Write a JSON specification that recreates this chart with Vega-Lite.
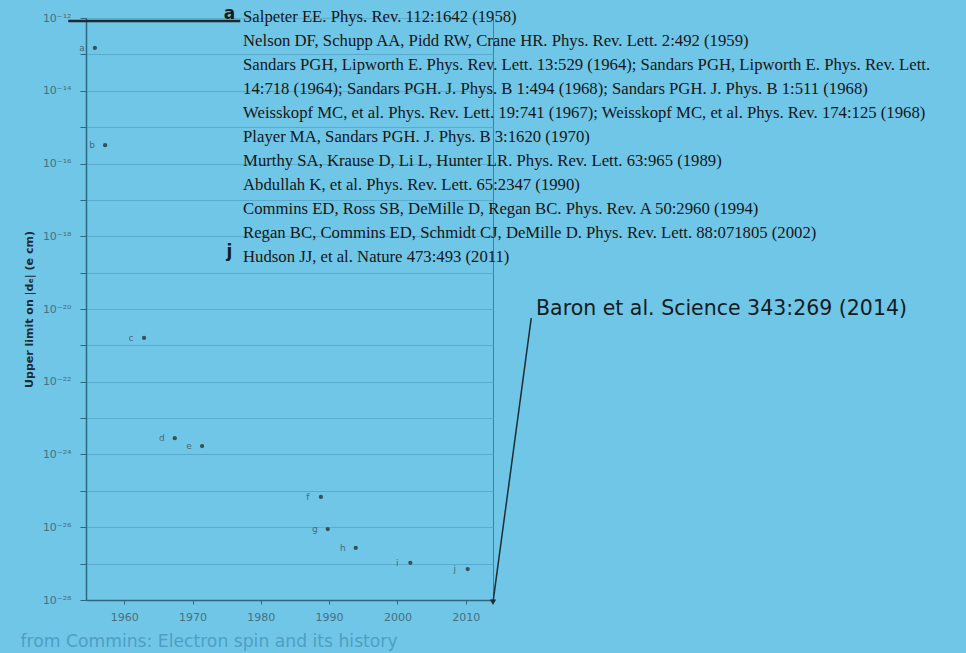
{
  "$schema": "https://vega.github.io/schema/vega-lite/v6.json",
  "width": 407,
  "height": 582,
  "autosize": {"type": "none"},
  "padding": {"left": 86, "top": 18, "right": 473, "bottom": 53},
  "background": "#70c6e7",
  "view": {"stroke": "#3f8098", "strokeWidth": 1},
  "config": {"font": "DejaVu Sans"},
  "datasets": {
    "points": [
      {"label": "a", "year": 1955.7, "limit": 1.5e-13},
      {"label": "b", "year": 1957.2, "limit": 3.2e-16},
      {"label": "c", "year": 1962.9, "limit": 1.6e-21},
      {"label": "d", "year": 1967.4, "limit": 2.8e-24},
      {"label": "e", "year": 1971.4, "limit": 1.7e-24},
      {"label": "f", "year": 1988.8, "limit": 6.8e-26},
      {"label": "g", "year": 1989.8, "limit": 8.9e-27},
      {"label": "h", "year": 1993.9, "limit": 2.7e-27},
      {"label": "i", "year": 2001.9, "limit": 1.05e-27},
      {"label": "j", "year": 2010.3, "limit": 7.1e-28}
    ],
    "baron": [
      {"label": "Baron et al. Science 343:269 (2014)", "year": 2014, "limit": 8.7e-29}
    ],
    "refs": [
      {"n": 1, "text": "Salpeter EE. Phys. Rev. 112:1642 (1958)"},
      {"n": 2, "text": "Nelson DF, Schupp AA, Pidd RW, Crane HR. Phys. Rev. Lett. 2:492 (1959)"},
      {"n": 3, "text": "Sandars PGH, Lipworth E. Phys. Rev. Lett. 13:529 (1964); Sandars PGH, Lipworth E. Phys. Rev. Lett."},
      {"n": 4, "text": "14:718 (1964); Sandars PGH. J. Phys. B 1:494 (1968); Sandars PGH. J. Phys. B 1:511 (1968)"},
      {"n": 5, "text": "Weisskopf MC, et al. Phys. Rev. Lett. 19:741 (1967); Weisskopf MC, et al. Phys. Rev. 174:125 (1968)"},
      {"n": 6, "text": "Player MA, Sandars PGH. J. Phys. B 3:1620 (1970)"},
      {"n": 7, "text": "Murthy SA, Krause D, Li L, Hunter LR. Phys. Rev. Lett. 63:965 (1989)"},
      {"n": 8, "text": "Abdullah K, et al. Phys. Rev. Lett. 65:2347 (1990)"},
      {"n": 9, "text": "Commins ED, Ross SB, DeMille D, Regan BC. Phys. Rev. A 50:2960 (1994)"},
      {"n": 10, "text": "Regan BC, Commins ED, Schmidt CJ, DeMille D. Phys. Rev. Lett. 88:071805 (2002)"},
      {"n": 11, "text": "Hudson JJ, et al. Nature 473:493 (2011)"}
    ],
    "marks": [
      {"n": 1, "text": "a"},
      {"n": 11, "text": "j"}
    ]
  },
  "resolve": {"scale": {"y": "independent"}},
  "layer": [
    {
      "layer": [
        {
          "data": {"name": "points"},
          "mark": {"type": "circle", "size": 18, "color": "#34515c", "opacity": 1},
          "encoding": {
            "x": {
              "field": "year", "type": "quantitative",
              "scale": {"domain": [1954.4, 2014], "nice": false, "zero": false},
              "axis": {
                "title": null, "values": [1960, 1970, 1980, 1990, 2000, 2010],
                "format": "d", "grid": false, "labelFontSize": 11, "labelColor": "#46707f",
                "tickSize": 4, "labelPadding": 7, "domainColor": "#2d6780", "tickColor": "#2d6780",
                "domainWidth": 1.5
              }
            },
            "y": {
              "field": "limit", "type": "quantitative",
              "scale": {"type": "log", "domain": [1e-28, 1e-12], "nice": false},
              "axis": {
                "title": "Upper limit on |dₑ| (e cm)",
                "titleFontSize": 11, "titleFontWeight": "bold", "titleColor": "#1c2c33", "titlePadding": 8,
                "values": [1e-28, 1e-27, 1e-26, 1e-25, 1e-24, 1e-23, 1e-22, 1e-21, 1e-20, 1e-19, 1e-18, 1e-17, 1e-16, 1e-15, 1e-14, 1e-13, 1e-12],
                "labelExpr": "(round(log(datum.value)/LN10) % 2 != 0) ? '' : '10⁻' + ['⁰','¹','²','³','⁴','⁵','⁶','⁷','⁸','⁹'][floor(-round(log(datum.value)/LN10)/10)] + ['⁰','¹','²','³','⁴','⁵','⁶','⁷','⁸','⁹'][-round(log(datum.value)/LN10) % 10]",
                "labelFontSize": 11, "labelColor": "#46707f", "labelPadding": 9, "tickSize": 6,
                "grid": true, "gridColor": "#5aacce", "gridWidth": 1,
                "domainColor": "#2d6780", "tickColor": "#2d6780", "domainWidth": 1.5
              }
            }
          }
        },
        {
          "data": {"name": "points"},
          "mark": {"type": "text", "dx": -13, "fontSize": 9, "color": "#4a6a78", "align": "center", "baseline": "middle"},
          "encoding": {
            "x": {"field": "year", "type": "quantitative"},
            "y": {"field": "limit", "type": "quantitative"},
            "text": {"field": "label"}
          }
        },
        {
          "data": {"name": "baron"},
          "mark": {"type": "rule", "color": "#1d2d33", "strokeWidth": 1.5, "clip": false},
          "encoding": {
            "x": {"field": "year", "type": "quantitative"},
            "y": {"field": "limit", "type": "quantitative"},
            "x2": {"datum": 2019.6},
            "y2": {"datum": 5.6e-21}
          }
        },
        {
          "data": {"name": "baron"},
          "mark": {"type": "point", "shape": "triangle-down", "filled": true, "size": 40, "color": "#1d2d33", "opacity": 1, "clip": false},
          "encoding": {
            "x": {"field": "year", "type": "quantitative"},
            "y": {"field": "limit", "type": "quantitative"}
          }
        },
        {
          "data": {"name": "baron"},
          "mark": {"type": "text", "align": "left", "baseline": "middle", "fontSize": 20.5, "color": "#141c20", "clip": false},
          "encoding": {
            "x": {"datum": 2020.3, "type": "quantitative"},
            "y": {"datum": 1e-20, "type": "quantitative"},
            "text": {"field": "label"}
          }
        },
        {
          "data": {"values": [{}]},
          "mark": {"type": "rule", "color": "#1b2a30", "strokeWidth": 2.5, "clip": false},
          "encoding": {
            "x": {"datum": 1951.8, "type": "quantitative"},
            "x2": {"datum": 1977.0},
            "y": {"datum": 8.3e-13, "type": "quantitative"}
          }
        },
        {
          "data": {"values": [{"text": "from Commins: Electron spin and its history"}]},
          "mark": {"type": "text", "align": "left", "baseline": "middle", "fontSize": 17.2, "color": "#4e9fc4", "clip": false},
          "encoding": {
            "x": {"datum": 1944.8, "type": "quantitative"},
            "y": {"datum": 7e-30, "type": "quantitative"},
            "text": {"field": "text"}
          }
        }
      ]
    },
    {
      "data": {"name": "refs"},
      "mark": {"type": "text", "align": "left", "baseline": "middle", "font": "Liberation Serif", "fontSize": 16.7, "color": "#161616", "clip": false},
      "encoding": {
        "x": {"datum": 1977.4, "type": "quantitative"},
        "y": {"field": "n", "type": "ordinal", "scale": {"type": "point", "range": [-1, 239], "padding": 0}, "axis": null},
        "text": {"field": "text"}
      }
    },
    {
      "data": {"name": "marks"},
      "mark": {"type": "text", "align": "center", "baseline": "middle", "fontSize": 17, "fontWeight": "bold", "color": "#141c20", "clip": false},
      "encoding": {
        "x": {"datum": 1975.4, "type": "quantitative"},
        "y": {"field": "n", "type": "ordinal", "scale": {"type": "point", "range": [-4, 234], "padding": 0}, "axis": null},
        "text": {"field": "text"}
      }
    }
  ]
}
